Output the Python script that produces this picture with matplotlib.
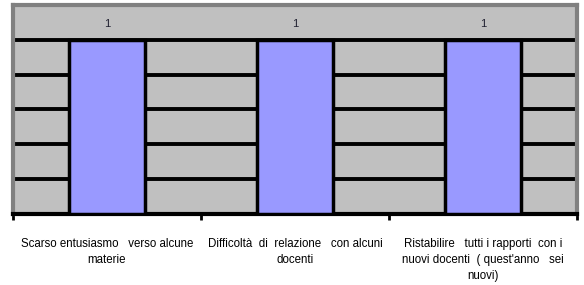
import numpy as np
import matplotlib.pyplot as plt

categorie = ['Scarso entusiasmo   verso alcune\nmaterie',
             'Difficoltà  di  relazione   con alcuni\ndocenti',
             'Ristabilire   tutti i rapporti  con i\nnuovi docenti  ( quest\'anno   sei\nnuovi)']
valori = [1, 1, 1]
etichette = ['1', '1', '1']

plt.rcParams['font.family'] = ['Liberation Sans', 'DejaVu Sans']

fig = plt.figure(figsize=(5.84, 2.85), dpi=100)
ax = fig.add_axes([13/584., 1-214/285., 564/584., 209/285.])
ax.set_facecolor('#C0C0C0')

x = np.arange(len(categorie))
ax.bar(x, valori, width=0.4, color='#9999FF', edgecolor='black', linewidth=2.5, zorder=3)
for xi, v, lab in zip(x, valori, etichette):
	ax.text(xi, v + 0.09, lab, ha='center', va='center', fontsize=8, color='#202030', zorder=4)

ax.set_xlim(-0.5, 2.5)
ax.set_ylim(0, 1.2)
ax.set_yticks([0.2, 0.4, 0.6, 0.8, 1.0])
ax.yaxis.grid(True, color='black', linewidth=2.8, zorder=1)
ax.set_axisbelow(True)
ax.tick_params(axis='y', left=False, labelleft=False)

ax.set_xticks(x)
ax.set_xticklabels(categorie, fontsize=8.3, linespacing=1.45)
ax.set_xticks([-0.5, 0.5, 1.5, 2.5], minor=True)
ax.tick_params(axis='x', which='major', length=0, pad=17)
ax.tick_params(axis='x', which='minor', length=4, width=2, color='black')

for s in ['left', 'top', 'right']:
	ax.spines[s].set_color('#808080')
	ax.spines[s].set_linewidth(3)
ax.spines['bottom'].set_color('black')
ax.spines['bottom'].set_linewidth(3)

fig.savefig('out.png', dpi=100)
